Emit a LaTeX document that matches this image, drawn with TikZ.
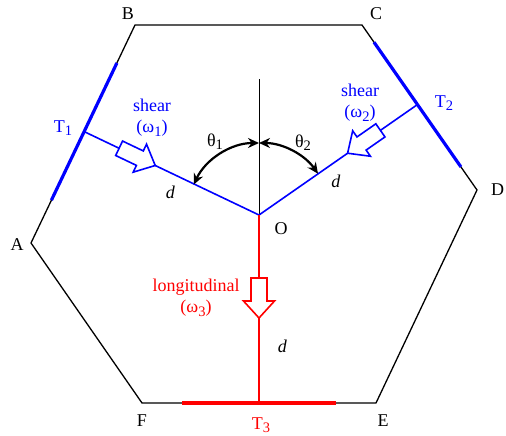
\documentclass[tikz,border=0pt]{standalone}
\usepackage{fontspec}
\setmainfont{Liberation Serif}
\usetikzlibrary{calc}
\usetikzlibrary{arrows.meta}
\tikzset{lbl/.style = {font=\fontsize{18}{21}\selectfont, inner sep=0}}
\tikzset{patch/.style = {line width=3.2pt}}
\tikzset{load/.style = {line width=1.6pt}}
\tikzset{anglearc/.style = {line width=2.2pt,
                            {Stealth[length=11pt,width=10pt]}-{Stealth[length=11pt,width=10pt]}}}
\newcommand{\lowsub}[1]{\raisebox{-0.4ex}{\fontsize{14.5}{16}\selectfont #1}}
% block arrow: colour, tail, tip
\newcommand{\fatarrow}[3]{%
  \coordinate (hb) at ($(#3)!17pt!(#2)$);
  \filldraw[#1, fill=white, line width=1.6pt]
    ($(#2)!8pt!90:(#3)$) -- ($(hb)!8pt!90:(#3)$) -- ($(hb)!15.5pt!90:(#3)$)
    -- (#3) -- ($(hb)!15.5pt!-90:(#3)$) -- ($(hb)!8pt!-90:(#3)$)
    -- ($(#2)!8pt!-90:(#3)$) -- cycle;}

\begin{document}
\begin{tikzpicture}[x=1pt,y=1pt]
  \useasboundingbox (0,0) rectangle (506,436);

  \coordinate (A) at (31,193);
  \coordinate (B) at (135,411);
  \coordinate (C) at (362,411);
  \coordinate (D) at (477,246);
  \coordinate (E) at (376,33);
  \coordinate (F) at (142,33);
  \coordinate (O) at (259,221);
  \coordinate (up) at (259,357);
  \coordinate (T1) at ($(A)!(O)!(B)$);
  \coordinate (T2) at ($(C)!(O)!(D)$);
  \coordinate (T3) at ($(F)!(O)!(E)$);

  \draw[line width=1.3pt] (A) -- (B) -- (C) -- (D) -- (E) -- (F) -- cycle;
  \draw[line width=0.9pt] (O) -- (up);

  \draw[patch,blue] ($(T1)!76pt!(A)$) -- ($(T1)!76pt!(B)$);
  \draw[patch,blue] ($(T2)!76pt!(C)$) -- ($(T2)!76pt!(D)$);
  \draw[patch,red] ($(T3)!77pt!(F)$) -- ($(T3)!77pt!(E)$);

  \draw[load,blue] (O) -- (T1);
  \draw[load,blue] (O) -- (T2);
  \draw[load,red] (O) -- (T3);

  \draw[anglearc] ([shift={(155:72pt)}]O) arc[start angle=155, end angle=90, radius=72pt];
  \draw[anglearc] ([shift={(35:72pt)}]O) arc[start angle=35, end angle=90, radius=72pt];

  \coordinate (s1tip) at ($(O)!115pt!(T1)$);
  \coordinate (s1tail) at ($(O)!155pt!(T1)$);
  \coordinate (s2tip) at ($(O)!108pt!(T2)$);
  \coordinate (s2tail) at ($(O)!148pt!(T2)$);
  \coordinate (s3tip) at ($(O)!103pt!(T3)$);
  \coordinate (s3tail) at ($(O)!63pt!(T3)$);
  \fatarrow{blue}{s1tail}{s1tip}
  \fatarrow{blue}{s2tail}{s2tip}
  \fatarrow{red}{s3tail}{s3tip}

  \node[lbl] (labA) at (17,191) {A};
  \node[lbl] (labB) at (128,422) {B};
  \node[lbl] (labC) at (376,422) {C};
  \node[lbl,anchor=west] (labD) at (491,246) {D};
  \node[lbl] (labE) at (383,15) {E};
  \node[lbl] (labF) at (142,15) {F};
  \node[lbl] (labO) at (281,207) {O};
  \node[lbl,blue] (labT1) at (63,308) {T\lowsub{1}};
  \node[lbl,blue] (labT2) at (444,333) {T\lowsub{2}};
  \node[lbl,red] (labT3) at (261,11) {T\lowsub{3}};
  \node[lbl,blue,align=center] (shear1) at (152,318) {shear\\(ω\lowsub{1})};
  \node[lbl,blue,align=center] (shear2) at (360,333) {shear\\(ω\lowsub{2})};
  \node[lbl,red,align=center] (longi) at (196,138) {longitudinal\\(ω\lowsub{3})};
  \node[lbl] (th1) at (215,294) {θ\lowsub{1}};
  \node[lbl] (th2) at (303,293) {θ\lowsub{2}};
  \node[lbl] (d1) at (170.5,244) {\textit{d}};
  \node[lbl] (d2) at (336,255) {\textit{d}};
  \node[lbl] (d3) at (282.5,90) {\textit{d}};
\end{tikzpicture}
\end{document}
